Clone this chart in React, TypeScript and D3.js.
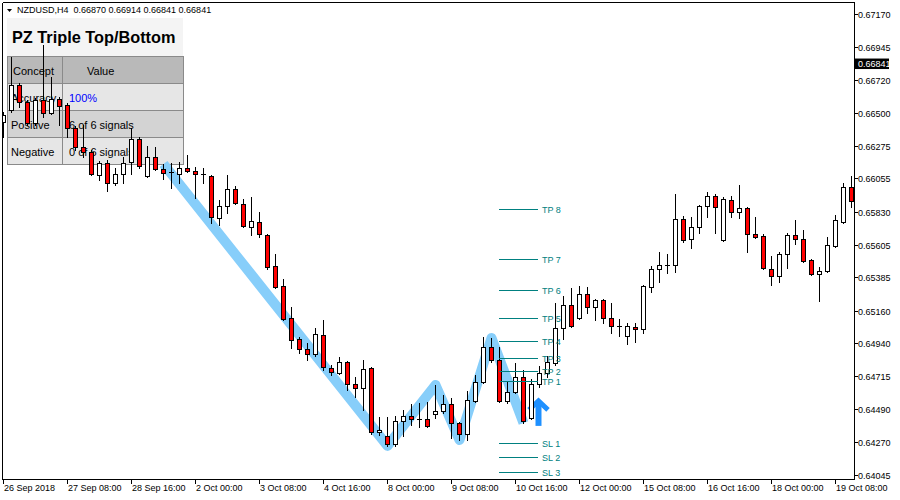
import React from 'react';
import * as d3 from 'd3';

const openP = [0.66445,0.66526,0.66696,0.66581,0.66438,0.66594,0.66506,0.66601,0.66560,0.66404,
0.66275,0.66242,0.66086,0.66167,0.66031,0.66092,0.66174,0.66330,0.66079,0.66208,
0.66126,0.66106,0.66092,0.66133,0.66113,0.66092,0.66079,0.65794,0.65876,0.65991,
0.65889,0.65733,0.65767,0.65679,0.65469,0.65333,0.65116,0.64974,0.64906,0.64872,
0.65001,0.64777,0.64743,0.64818,0.64669,0.64642,0.64777,0.64343,0.64316,0.64262,
0.64418,0.64452,0.64432,0.64432,0.64466,0.64486,0.64533,0.64405,0.64330,0.64554,
0.64682,0.64920,0.64832,0.64554,0.64615,0.64716,0.64438,0.64669,0.64743,0.64811,
0.65049,0.65204,0.65116,0.65279,0.65191,0.65238,0.65116,0.65062,0.64994,0.65055,
0.65042,0.65326,0.65448,0.65476,0.65476,0.65787,0.65652,0.65733,0.65876,0.65943,
0.65645,0.65916,0.65835,0.65862,0.65686,0.65672,0.65448,0.65401,0.65550,0.65679,
0.65652,0.65509,0.65415,0.65435,0.65604,0.65767,0.66004];

const highP = [0.66513,0.66886,0.66709,0.66594,0.66608,0.66967,0.66750,0.66614,0.66574,0.66418,
0.66425,0.66255,0.66181,0.66187,0.66133,0.66208,0.66404,0.66343,0.66282,0.66275,
0.66160,0.66167,0.66174,0.66221,0.66140,0.66133,0.66086,0.65916,0.66086,0.66011,
0.65923,0.65937,0.65835,0.65686,0.65550,0.65381,0.65191,0.64988,0.64947,0.65049,
0.65103,0.64798,0.64852,0.64825,0.64716,0.64832,0.64784,0.64445,0.64445,0.64452,
0.64493,0.64533,0.64540,0.64547,0.64662,0.64594,0.64574,0.64411,0.64621,0.64730,
0.64988,0.64981,0.64920,0.64689,0.64811,0.64764,0.64703,0.64791,0.64859,0.65218,
0.65265,0.65320,0.65333,0.65326,0.65245,0.65245,0.65218,0.65110,0.65082,0.65082,
0.65340,0.65469,0.65564,0.65550,0.65957,0.65808,0.65801,0.65882,0.65970,0.65957,
0.65937,0.65943,0.66018,0.65869,0.65801,0.65686,0.65537,0.65564,0.65692,0.65781,
0.65713,0.65516,0.65462,0.65665,0.65815,0.66031,0.66079];

const lowP = [0.66343,0.66513,0.66547,0.66425,0.66425,0.66479,0.66499,0.66425,0.66343,0.66255,
0.66208,0.66086,0.66052,0.65977,0.66018,0.66031,0.66092,0.66133,0.66072,0.66120,
0.66059,0.65997,0.66031,0.66106,0.65930,0.66031,0.65760,0.65747,0.65828,0.65889,
0.65733,0.65679,0.65665,0.65448,0.65320,0.65103,0.64913,0.64879,0.64832,0.64859,
0.64764,0.64730,0.64737,0.64628,0.64581,0.64493,0.64330,0.64323,0.64249,0.64249,
0.64316,0.64391,0.64377,0.64377,0.64438,0.64472,0.64303,0.64289,0.64289,0.64547,
0.64676,0.64818,0.64547,0.64540,0.64608,0.64405,0.64432,0.64649,0.64716,0.64798,
0.64974,0.65055,0.65110,0.65150,0.65103,0.65082,0.65015,0.64994,0.64940,0.64954,
0.65015,0.65293,0.65360,0.65421,0.65428,0.65632,0.65591,0.65692,0.65801,0.65692,
0.65638,0.65801,0.65794,0.65564,0.65659,0.65448,0.65340,0.65360,0.65455,0.65618,
0.65496,0.65408,0.65232,0.65428,0.65598,0.65760,0.65869];

const closeP = [0.66492,0.66696,0.66581,0.66438,0.66594,0.66506,0.66601,0.66553,0.66404,0.66275,
0.66242,0.66092,0.66167,0.66031,0.66092,0.66167,0.66330,0.66147,0.66208,0.66126,
0.66099,0.66106,0.66133,0.66113,0.66092,0.66092,0.65801,0.65876,0.65991,0.65896,
0.65740,0.65774,0.65686,0.65462,0.65326,0.65110,0.64967,0.64906,0.64872,0.65008,
0.64784,0.64750,0.64818,0.64669,0.64642,0.64771,0.64343,0.64357,0.64262,0.64418,
0.64452,0.64432,0.64432,0.64384,0.64486,0.64533,0.64405,0.64330,0.64560,0.64682,
0.64920,0.64832,0.64554,0.64615,0.64716,0.64418,0.64669,0.64743,0.64818,0.65049,
0.65204,0.65062,0.65279,0.65191,0.65238,0.65116,0.65062,0.65062,0.65062,0.65042,
0.65333,0.65448,0.65476,0.65476,0.65787,0.65645,0.65733,0.65876,0.65943,0.65869,
0.65923,0.65835,0.65862,0.65686,0.65665,0.65455,0.65401,0.65550,0.65679,0.65652,
0.65503,0.65415,0.65435,0.65611,0.65781,0.66004,0.65909];

const dateTickIdx = [0, 8, 16, 24, 32, 40, 48, 56, 64, 72, 80, 88, 96, 104];
const dateLabels = ['26 Sep 2018', '27 Sep 08:00', '28 Sep 16:00', '2 Oct 00:00', '3 Oct 08:00',
  '4 Oct 16:00', '8 Oct 00:00', '9 Oct 08:00', '10 Oct 16:00', '12 Oct 00:00', '15 Oct 08:00',
  '16 Oct 16:00', '18 Oct 00:00', '19 Oct 08:00'];
const priceTicks = [0.67170, 0.66945, 0.66720, 0.66500, 0.66275, 0.66055, 0.65830, 0.65605,
  0.65385, 0.65160, 0.64940, 0.64715, 0.64490, 0.64270, 0.64045];
const tpLevels = [0.64689, 0.64757, 0.64843, 0.64962, 0.65114, 0.65304, 0.65514, 0.65853];
const slLevels = [0.64267, 0.64176, 0.64074];
const patternIdx = [20, 48, 54, 57, 61, 65];
const patternKind = ['high', 'low', 'high', 'low', 'high', 'low'];
const signalIdx = 67;
const currentPrice = 0.66841;
const headerText = 'NZDUSD,H4  0.66870 0.66914 0.66841 0.66841';
const tableTitle = 'PZ Triple Top/Bottom';
const tableHeader = ['Concept', 'Value'];
const tableConcepts = ['Accuracy', 'Positive', 'Negative'];
const tableValues = ['100%', '6 of 6 signals', '0 of 6 signals'];

const FONT = '"Liberation Sans", Arial, sans-serif';

export default function App() {
  const x = d3.scaleLinear().domain([0, 106]).range([3, 851]);
  const y = d3.scaleLinear().domain([0.64045, 0.67170]).range([476, 15]);
  const px = (i: number) => Math.round(x(i));
  const py = (p: number) => Math.round(y(p));

  const candles = openP.map((o, i) => ({ o, h: highP[i], l: lowP[i], c: closeP[i], i }));

  const patternPts: [number, number][] = patternIdx.map((idx, k) => [
    x(idx) + 0.5,
    y(patternKind[k] === 'high' ? highP[idx] : lowP[idx]),
  ]);
  const band = d3.line()(patternPts) || '';

  const levelX0 = px(62);
  const levelX1 = px(67) - 1;
  const levelLabelX = px(67) + 3;

  const sx = x(signalIdx) - 0.5;
  const sTip = y(lowP[signalIdx]) + 11;

  const rowTop = [56.5, 83.5, 110.5, 137.5];
  const rowH = 27;
  const rowFill = ['#b9b9b9', '#e6e6e6', '#d3d3d3', '#e6e6e6'];

  return (
    <div style={{ position: 'absolute', left: 0, top: 0 }}>
      <style>{'body{margin:0}'}</style>
      <svg width={900} height={500} style={{ display: 'block', background: '#fff' }}>
        <defs>
          <clipPath id="plot">
            <rect x={3} y={3} width={851} height={476} />
          </clipPath>
        </defs>
        <rect x={0} y={0} width={900} height={500} fill="#fff" />

        {/* info panel */}
        <g>
          <rect x={7} y={18} width={176} height={39} fill="#f4f4f4" />
          <text x={12} y={43} fontFamily={FONT} fontWeight="bold" fontSize={16.3} fill="#000">{tableTitle}</text>
          {rowTop.map((t, r) => (
            <g key={r}>
              <rect x={7.5} y={t} width={55} height={rowH} fill={rowFill[r]} stroke="#8a8a8a" strokeWidth={1} />
              <rect x={62.5} y={t} width={121} height={rowH} fill={rowFill[r]} stroke="#8a8a8a" strokeWidth={1} />
            </g>
          ))}
          <text x={13} y={rowTop[0] + 18.5} fontFamily={FONT} fontSize={11} fill="#000">{tableHeader[0]}</text>
          <text x={87} y={rowTop[0] + 18.5} fontFamily={FONT} fontSize={11} fill="#000">{tableHeader[1]}</text>
          {tableConcepts.map((c, k) => (
            <g key={c}>
              <text x={11} y={rowTop[k + 1] + 18.5} fontFamily={FONT} fontSize={11} fill="#000">{c}</text>
              <text x={69} y={rowTop[k + 1] + 18.5} fontFamily={FONT} fontSize={11} fill={k === 0 ? '#0000ff' : '#000'}>{tableValues[k]}</text>
            </g>
          ))}
        </g>

        <g clipPath="url(#plot)">
          {/* pattern band */}
          <path d={band} fill="none" stroke="#87cefa" strokeWidth={10} strokeLinejoin="round" strokeLinecap="butt" />

          {/* signal arrow */}
          <g fill="none" stroke="#1e90ff">
            <line x1={sx} y1={sTip + 3} x2={sx} y2={sTip + 28} strokeWidth={6} />
            <polyline points={`${sx - 9.5},${sTip + 12} ${sx},${sTip + 3} ${sx + 9.5},${sTip + 12}`} strokeWidth={5} strokeLinejoin="miter" />
          </g>

          {/* candles */}
          {candles.map((d) => {
            const cx = px(d.i);
            const top = py(Math.max(d.o, d.c));
            const bot = py(Math.min(d.o, d.c));
            const bull = d.c >= d.o;
            return (
              <g key={d.i} shapeRendering="crispEdges">
                <line x1={cx + 0.5} x2={cx + 0.5} y1={py(d.h)} y2={py(d.l) + 1} stroke="#000" strokeWidth={1} />
                {bot - top >= 1 ? (
                  <rect x={cx - 1.5} y={top + 0.5} width={4} height={bot - top} fill={bull ? '#fff' : '#ff0000'} stroke="#000" strokeWidth={1} />
                ) : (
                  <line x1={cx - 2} x2={cx + 3} y1={top + 0.5} y2={top + 0.5} stroke="#000" strokeWidth={1} />
                )}
              </g>
            );
          })}

          {/* TP / SL levels */}
          {[...tpLevels.map((v, k) => ({ v, label: `TP ${k + 1}` })), ...slLevels.map((v, k) => ({ v, label: `SL ${k + 1}` }))].map((lv) => (
            <g key={lv.label}>
              <line x1={levelX0} x2={levelX1} y1={py(lv.v) + 0.5} y2={py(lv.v) + 0.5} stroke="#008080" strokeWidth={1} shapeRendering="crispEdges" />
              <text x={levelLabelX} y={py(lv.v) + 3.5} fontFamily={FONT} fontSize={9} fill="#008080">{lv.label}</text>
            </g>
          ))}
        </g>

        {/* frame */}
        <g shapeRendering="crispEdges" stroke="#000" strokeWidth={1} fill="none">
          <line x1={2.5} x2={2.5} y1={2.5} y2={479.5} />
          <line x1={2.5} x2={854.5} y1={2.5} y2={2.5} />
          <line x1={854.5} x2={854.5} y1={2.5} y2={480} />
          <line x1={2.5} x2={854.5} y1={479.5} y2={479.5} />
        </g>

        {/* price axis */}
        {priceTicks.map((p) => (
          <g key={p}>
            <line x1={855} x2={858} y1={py(p) - 0.5} y2={py(p) - 0.5} stroke="#000" strokeWidth={1} shapeRendering="crispEdges" />
            <text x={858} y={py(p) + 2.5} fontFamily={FONT} fontSize={9} fill="#000">{d3.format('.5f')(p)}</text>
          </g>
        ))}
        <rect x={855} y={y(currentPrice) - 5} width={34} height={10.5} fill="#000" />
        <text x={858} y={y(currentPrice) + 3.3} fontFamily={FONT} fontSize={9} fill="#fff">{d3.format('.5f')(currentPrice)}</text>

        {/* time axis */}
        {dateTickIdx.map((idx, k) => (
          <g key={idx}>
            <line x1={px(idx) + 0.5} x2={px(idx) + 0.5} y1={480} y2={484} stroke="#000" strokeWidth={1} shapeRendering="crispEdges" />
            <text x={px(idx) + 1} y={491} fontFamily={FONT} fontSize={9} fill="#000">{dateLabels[k]}</text>
          </g>
        ))}

        {/* header */}
        <polygon points="7,9 12,9 9.5,12" fill="#000" />
        <text x={17} y={13} fontFamily={FONT} fontSize={9} fill="#000" style={{ whiteSpace: 'pre' }}>{headerText}</text>
      </svg>
    </div>
  );
}
